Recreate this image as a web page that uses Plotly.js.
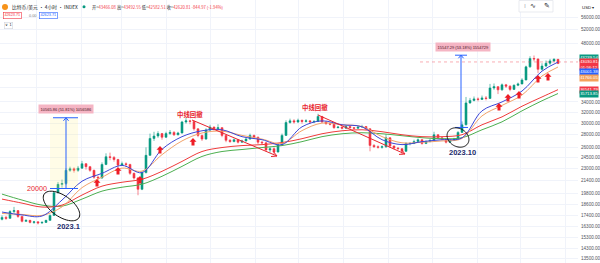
<!DOCTYPE html>
<html><head><meta charset="utf-8">
<script src="https://cdn.plot.ly/plotly-3.0.1.min.js"></script>
<style>html,body{margin:0;padding:0;background:#fff;overflow:hidden}#chart{width:600px;height:263px}</style>
</head><body><div id="chart"></div>
<script>
// ---------- DATA ----------
const firstOpen = 17000;
const closes = [
17200,17100,17800,17900,17300,16800,16900,16700,16750,16650,
16700,16900,17400,19900,20900,21000,22700,22900,22700,23000,
23600,23200,22700,21800,21700,23500,24600,24500,24200,23400,
23600,23500,22300,21700,20300,22400,24800,27400,27800,28200,
27600,28200,28400,28000,28300,30200,30400,30300,29000,27900,
27300,28800,29300,29000,29200,27900,27100,26900,27200,26800,
27000,27300,27900,27600,26800,26700,25600,25800,25300,26400,
27900,30100,30400,30200,30500,30300,30400,30200,30300,31200,
30200,29900,29800,29200,29300,29100,29400,29200,29100,29300,
29400,29000,26300,26100,26000,26100,27500,26200,25900,25800,
25400,26600,26600,26900,27200,26600,26900,27100,28000,27500,
27300,26800,27100,27300,28400,29700,33800,34300,34600,34500,
34800,34700,36900,37200,36500,37600,37300,36600,37500,37800,
38700,41800,43900,43800,41200,42000,42700,43300,43700,42620];
const highs = [
17400,17350,17950,18300,17950,17350,17000,16950,16850,16800,
16800,16950,17500,20100,21200,21500,23000,23200,23100,23300,
24000,23700,23300,22800,22000,23800,25100,25200,24700,24300,
23900,23800,23600,22400,21800,22600,26000,28200,28500,28600,
28300,28500,28800,28600,28500,30400,30900,30600,30400,29100,
28000,29100,29700,29400,29800,29300,28000,27300,27400,27300,
27200,27500,28200,28000,27700,27000,26800,26100,26000,26600,
28200,30500,30800,30700,30800,30600,30700,30500,30500,31700,
31300,30300,30100,29900,29500,29400,29600,29500,29300,29500,
29700,29500,29100,26500,26300,26300,28100,27600,26300,26000,
25900,26800,26800,27200,27400,27300,27100,27300,28500,28100,
27700,27400,27300,27500,28600,30300,35000,34800,35100,34900,
35300,35200,37800,37900,37300,37900,37800,37500,37700,38100,
39100,42100,44500,44700,43900,42700,43400,43800,44000,43800];
const lows = [
16900,16950,17050,17650,17150,16700,16750,16600,16550,16500,
16550,16650,16850,17350,19800,20500,20800,22500,22400,22500,
22900,22800,22500,21600,21400,21600,23400,24100,23900,23200,
23300,23200,22100,21500,19600,20200,22300,24700,27000,27500,
27200,27500,28000,27800,27900,28200,29900,29800,28700,27600,
27000,27200,28600,28700,28800,27600,26800,26700,26800,26600,
26700,26900,27200,27300,26500,26400,25400,25200,24900,25200,
26300,27800,29900,29900,30000,29900,30100,29900,30000,30200,
30000,29700,29600,29000,29100,28900,29000,29000,28900,29000,
29200,28800,25400,25900,25800,25800,25900,25900,25700,25600,
24900,25300,26300,26500,26700,26400,26500,26800,27000,27300,
27100,26600,26700,27000,27200,28300,29600,33600,34100,34100,
34400,34300,34600,36500,35600,36300,36900,36200,36500,37300,
37700,38600,41600,43200,40300,40900,41800,42300,43000,42580];

const maBars   = [0,5,10,15,20,25,30,35,40,45,50,55,60,65,70,75,80,85,90,95,100,105,110,115,120,125,130,135,139];
const maBlue   = [17750,17450,17340,19050,21290,22300,23370,22400,25700,27690,28670,28840,27690,27200,26420,29350,30400,29700,29350,27200,26420,26890,27200,27500,32250,33990,36240,40760,43001];
const maOrange = [17600,17500,17400,18300,20500,21800,23000,22600,24900,27000,28300,28600,27900,27300,26600,28700,30000,29700,29400,27700,26700,26800,27000,27400,31300,33300,35400,39600,41766];
const maRed    = [19160,18710,18280,18490,19620,20680,21160,21540,22570,23930,25370,25970,26270,26420,26740,27360,28170,28670,28840,28510,28010,27690,27690,28010,29700,31120,33140,35000,36541];
const maGreen  = [19730,19050,18490,18380,19160,20080,20550,20920,21920,23240,24640,25370,25670,25970,26270,26890,27690,28170,28340,28170,27850,27520,27360,27520,28840,30220,32250,34220,35713];

const yTickVals = [56000,52000,48000,44000,40000,37000,34000,32000,30000,28000,26000,24500,23000,21400,19800,18600,17400,16300,15300,14300,13500];
const yTickText = yTickVals.map(v => (v===44000||v===40000||v===37000) ? '' : v.toFixed(2));

const tagTexts  = ['43239.54','43030.81','43001.38','41766.05','36541.79','35713.85'];
const tagColors = ['#089981','#f23645','#2962ff','#f5a05a','#f23645','#089981'];
const countdown = '01:56:12';
const lastPrice = 43030.81;

const headerLabels = ['开','高','低','收'];
const headerValues = ['43466.08','43492.55','42582.51','42620.81'];
const headerChange = '-844.97 (-1.94%)';
const legendValues = ['42623.71','0.00','42623.71'];

const measure1 = [20393, 30959];  // base, top
const measure1Text = '10565.86 (51.81%) 1056586';
const measure2 = [29235, 44782];
const measure2Text = '15547.29 (53.18%) 1554729';

// ---------- GEOMETRY ----------
const W = 578, H = 263;
const DAY = 86400000, jan1 = Date.UTC(2023,0,1), pxPerDay = 1.452;
const pxToTime = px => jan1 + (px-36)/pxPerDay*DAY;
const iso = ms => new Date(ms).toISOString().slice(0,19).replace('T',' ');
const barTime = i => iso(pxToTime(2) + i*(4/pxPerDay)*DAY);
const yLo = Math.log10(13141), yHi = Math.log10(62018);
const PX = x => x/W, PY = y => 1 - y/H;
const YP = p => (Math.log10(p)-yLo)/(yHi-yLo);
const yPix = p => (1-YP(p))*H;

const opens = closes.map((c,i) => i===0 ? firstOpen : closes[i-1]);
const xs = closes.map((_,i) => barTime(i));
const maX = maBars.map(barTime);

const traces = [
  {type:'candlestick', x:xs, open:opens, high:highs, low:lows, close:closes,
   increasing:{line:{color:'#089981',width:0.6}, fillcolor:'#089981'},
   decreasing:{line:{color:'#f23645',width:0.6}, fillcolor:'#f23645'},
   whiskerwidth:0, hoverinfo:'skip', showlegend:false},
  {type:'scatter', mode:'lines', x:maX, y:maGreen, line:{color:'#4caf50',width:1,shape:'spline',smoothing:1}, hoverinfo:'skip', showlegend:false},
  {type:'scatter', mode:'lines', x:maX, y:maRed, line:{color:'#ef3b3b',width:1,shape:'spline',smoothing:1}, hoverinfo:'skip', showlegend:false},
  {type:'scatter', mode:'lines', x:maX, y:maOrange, line:{color:'#f2a36b',width:1,shape:'spline',smoothing:1}, hoverinfo:'skip', showlegend:false},
  {type:'scatter', mode:'lines', x:maX, y:maBlue, line:{color:'#3d47d6',width:1,shape:'spline',smoothing:1}, hoverinfo:'skip', showlegend:false}
];

const shapes = [];
const ann = [];
function line(x0,y0,x1,y1,color,width,dash){
  shapes.push({type:'line',xref:'paper',yref:'paper',x0:PX(x0),y0:PY(y0),x1:PX(x1),y1:PY(y1),line:{color:color,width:width||1,dash:dash||'solid'}});
}
function pathPx(pts, close){
  return pts.map((p,k)=>(k?'L':'M')+PX(p[0]).toFixed(5)+','+PY(p[1]).toFixed(5)).join(' ')+(close?' Z':'');
}
function chevron(x0,y0,x1,y1,len,spread,color){
  const th = Math.atan2(y1-y0,x1-x0), s = spread*Math.PI/180;
  const p1=[x1-len*Math.cos(th-s), y1-len*Math.sin(th-s)];
  const p2=[x1-len*Math.cos(th+s), y1-len*Math.sin(th+s)];
  shapes.push({type:'path',xref:'paper',yref:'paper',path:pathPx([p1,[x1,y1],p2],false),line:{color:color,width:1}});
}
function ellipse(cx,cy,rx,ry,deg){
  const a=deg*Math.PI/180, pts=[];
  for(let k=0;k<=60;k++){const t=k/60*2*Math.PI;
    pts.push([cx+rx*Math.cos(t)*Math.cos(a)-ry*Math.sin(t)*Math.sin(a), cy+rx*Math.cos(t)*Math.sin(a)+ry*Math.sin(t)*Math.cos(a)]);}
  shapes.push({type:'path',xref:'paper',yref:'paper',path:pathPx(pts,true),line:{color:'#111',width:1}});
}
function upArrow(cx,cy){
  const pts=[[cx,cy-4],[cx+3.5,cy-0.3],[cx+1.5,cy-0.3],[cx+1.5,cy+3.5],[cx-1.5,cy+3.5],[cx-1.5,cy-0.3],[cx-3.5,cy-0.3]];
  shapes.push({type:'path',xref:'paper',yref:'paper',path:pathPx(pts,true),fillcolor:'#ee1c25',line:{width:0}});
}
function text(x,y,t,size,color,opts){
  ann.push(Object.assign({xref:'paper',yref:'paper',x:PX(x),y:PY(y),text:t,showarrow:false,xanchor:'left',yanchor:'middle',
    font:{size:size,color:color,family:'Liberation Sans, Arial, sans-serif'}},opts||{}));
}

// price line
shapes.push({type:'line',xref:'paper',yref:'paper',x0:PX(420),x1:1,y0:YP(lastPrice),y1:YP(lastPrice),line:{color:'rgba(242,54,69,0.4)',width:1,dash:'dot'}});

// measure 1
const m1b=yPix(measure1[0]), m1t=yPix(measure1[1]);
shapes.push({type:'rect',xref:'paper',yref:'paper',x0:PX(50),x1:PX(78),y0:PY(m1b),y1:PY(m1t),fillcolor:'rgba(255,240,120,0.18)',line:{width:0}});
line(53,m1t,78,m1t,'#2962ff',1); line(50,m1b,78,m1b,'#2962ff',1);
line(66,m1b,66,m1t,'#2962ff',1); chevron(66,m1b,66,m1t,4,40,'#2962ff');
text(66,m1t-8.5,measure1Text,4.0,'#4a1424',{xanchor:'center',bgcolor:'#f5b5c4',borderpad:1.5});
text(49,m1b,'20000',7.2,'#e8242e',{xanchor:'right'});

// ellipse 1 + label
ellipse(61.5,206,21,10.5,35);
text(68,226,'<b>2023.1</b>',7.5,'#1b2a6b',{xanchor:'center'});

// measure 2
const m2b=yPix(measure2[0]), m2t=yPix(measure2[1]);
line(455,m2t,467,m2t,'#2962ff',1); line(455,m2b,468,m2b,'#2962ff',1);
line(461,m2b,461,m2t,'#2962ff',1); chevron(461,m2b,461,m2t,4,40,'#2962ff');
text(463,m2t-8.5,measure2Text,4.0,'#4a1424',{xanchor:'center',bgcolor:'#f5b5c4',borderpad:1.5});

// ellipse 2 + label
ellipse(458,137.5,11.5,9,30);
text(463,152.5,'<b>2023.10</b>',7.5,'#1b2a6b',{xanchor:'center'});

// red trend lines
line(192,120,277,156,'#e8242e',1); chevron(192,120,277,156,6,28,'#e8242e');
line(318,115,405,154,'#e8242e',1); chevron(318,115,405,154,6,28,'#e8242e');
const cjk = 'Noto Sans CJK SC, sans-serif';
text(190,114.5,'<b>中线回撤</b>',6.4,'#e8242e',{xanchor:'center',font:{size:6.4,color:'#e8242e',family:cjk}});
text(315,107.5,'<b>中线回撤</b>',6.4,'#e8242e',{xanchor:'center',font:{size:6.4,color:'#e8242e',family:cjk}});

// red up arrows
[[97,183],[118,171],[140,180],[160,150],[193,142],[499,107],[508,98],[519,95],[538,79],[548,77]].forEach(p=>upArrow(p[0],p[1]));

// right price tags
const tagY=[58,64.5,72,78.3,89.7,94.3];
tagTexts.forEach((t,k)=>{
  text(579, tagY[k], k===1 ? t+'<br>'+countdown : t, 4.3, '#ffffff', {bgcolor:tagColors[k], borderpad:0.4, width:17.5, align:'center'});
});

// header
shapes.push({type:'circle',xref:'paper',yref:'paper',x0:PX(2),x1:PX(8),y0:PY(4),y1:PY(10),fillcolor:'#f7931a',line:{width:0}});
shapes.push({type:'circle',xref:'paper',yref:'paper',x0:PX(82.5),x1:PX(85.5),y0:PY(5.2),y1:PY(8.2),fillcolor:'#089981',line:{width:0}});
text(10,7,'比特币/美元 · 4小时 · INDEX',4.8,'#131722',{font:{size:4.8,color:'#131722',family:cjk}});
let hdr = headerLabels.map((l,k)=>l+'=<span style="color:#f23645">'+headerValues[k]+'</span>').join(' ') + ' <span style="color:#f23645">'+headerChange+'</span>';
text(90,7,hdr,4.2,'#131722',{font:{size:4.2,color:'#131722',family:cjk}});
text(3,15.5,legendValues[0],3.8,'#f23645',{bordercolor:'#f23645',borderwidth:0.6,borderpad:0.8,bgcolor:'#ffffff'});
text(27,15.5,legendValues[1],3.8,'#787b86');
text(39,15.5,legendValues[2],3.8,'#2962ff',{bordercolor:'#2962ff',borderwidth:0.6,borderpad:0.8,bgcolor:'#ffffff'});
text(3.5,25,'∨ 1',3.8,'#131722',{bordercolor:'#d1d4dc',borderwidth:0.6,borderpad:0.8,bgcolor:'#ffffff'});

// top-right toolbar + currency
shapes.push({type:'rect',xref:'paper',yref:'paper',x0:PX(519),x1:PX(553),y0:PY(12),y1:PY(0.5),fillcolor:'#ffffff',line:{color:'#dfe2ea',width:0.7}});
text(521.5,6,'⁞',6,'#9598a1',{font:{size:6,color:'#9598a1',family:'DejaVu Sans'}});
text(528,6,'∿',7,'#131722',{font:{size:7,color:'#131722',family:'DejaVu Sans'}});
text(542,6,'✎',7,'#131722',{font:{size:7,color:'#131722',family:'DejaVu Sans'}});
text(580,7,'USD ▾',4.4,'#131722');

const layout = {
  width:600, height:263,
  margin:{l:0,r:22,t:0,b:0,pad:0},
  paper_bgcolor:'#ffffff', plot_bgcolor:'#ffffff',
  showlegend:false, hovermode:false, dragmode:false,
  xaxis:{type:'date', range:[iso(pxToTime(0)), iso(pxToTime(W))], showticklabels:false, showgrid:true,
         gridcolor:'#f0f3fa', gridwidth:1, dtick:'M1', tick0:'2023-01-01', zeroline:false, showline:false,
         ticks:'', rangeslider:{visible:false}, fixedrange:true},
  yaxis:{type:'log', side:'right', range:[yLo,yHi], tickmode:'array', tickvals:yTickVals, ticktext:yTickText,
         tickfont:{size:4.6,color:'#50535e',family:'Liberation Sans, Arial, sans-serif'},
         showgrid:true, gridcolor:'#f0f3fa', gridwidth:1, zeroline:false, showline:false, ticks:'',
         ticklabelstandoff:2, fixedrange:true},
  shapes:shapes, annotations:ann
};
Plotly.newPlot('chart', traces, layout, {staticPlot:true, displayModeBar:false});
</script></body></html>
